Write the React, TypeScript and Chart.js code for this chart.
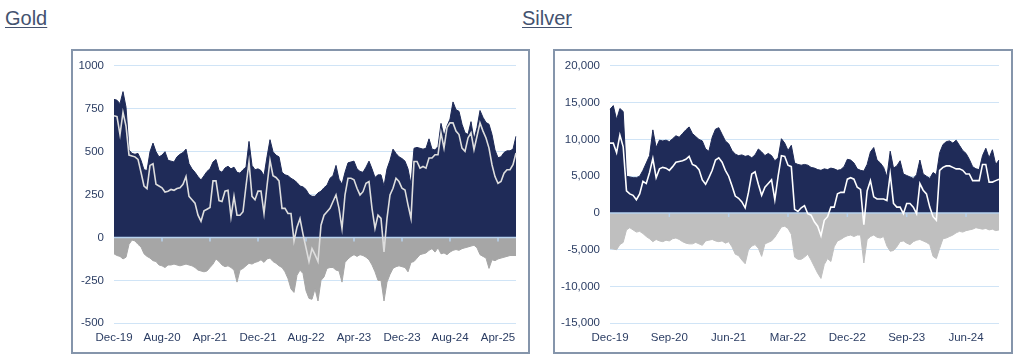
import React, { useEffect, useRef } from "react";
import { Chart, registerables } from "chart.js";

Chart.register(...registerables);

// ---------- DATA (semi-monthly readings) ----------
const goldTickLabels = ["Dec-19", "Aug-20", "Apr-21", "Dec-21", "Aug-22", "Apr-23", "Dec-23", "Aug-24", "Apr-25"];
const goldTickEvery = 16;

const goldLong = [
  805, 800, 780, 850, 760, 510, 490, 485, 490, 450,
  395, 390, 500, 550, 500, 470, 480, 500, 450, 445,
  440, 470, 485, 495, 515, 430, 400, 380, 355, 335,
  360, 385, 400, 440, 455, 390, 380, 405, 415, 400,
  410, 380, 375, 395, 410, 560, 420, 395, 400, 390,
  360, 470, 570, 500, 480, 470, 380, 365, 360, 345,
  335, 320, 300, 295, 280, 250, 240, 240, 260, 270,
  290, 305, 345, 360, 420, 340, 310, 380, 435, 440,
  445, 400, 385, 380, 410, 445, 400, 350, 365, 365,
  300, 400, 450, 515, 490, 470, 460, 445, 400, 310,
  520, 525, 520, 515, 520, 575, 515, 510, 530, 665,
  590, 650, 690, 790, 745, 735, 660, 610, 600, 675,
  570, 640, 740, 700, 670, 660, 600, 510, 465, 470,
  495, 505, 505, 515, 590,
];

const goldShort = [
  -95, -105, -110, -125, -115, -40, -15, -20, -40, -55,
  -95, -110, -120, -135, -140, -160, -165, -175, -160, -160,
  -155, -160, -165, -160, -155, -160, -165, -175, -190, -195,
  -200, -195, -175, -155, -125, -140, -160, -170, -165, -175,
  -190, -260, -190, -180, -165, -150, -155, -145, -140, -130,
  -145, -125, -120, -140, -150, -165, -175, -200, -240, -300,
  -320, -220, -190, -210, -310, -355, -360, -300, -370, -250,
  -230, -180, -175, -175, -190, -195, -260, -145, -125, -110,
  -100, -110, -100, -105, -115, -130, -160, -200, -250, -250,
  -370, -260, -215, -180, -170, -165, -170, -175, -200, -145,
  -140, -120, -100, -95, -90, -75, -65, -85, -60, -95,
  -90, -100, -85, -75, -70, -75, -65, -60, -55, -50,
  -45, -60, -100, -110, -120, -180, -130, -135, -125, -120,
  -115, -110, -105, -105, -105,
];

const goldNet = [
  710, 705, 600, 730, 650, 480, 475, 470, 455, 380,
  300, 285, 420, 430, 310, 300, 290, 265, 270, 280,
  275, 285, 290, 310, 355, 240, 220, 200, 130, 95,
  155, 165, 175, 330, 330, 215, 210, 270, 275, 120,
  240, 130, 130, 150, 300, 440, 240, 220, 270, 270,
  140, 300, 450, 360, 350, 330, 170, 170, 140, 140,
  -20, 60, 110, 20, -60, -140, -65, -100, -140, 72,
  130, 150, 170, 210, 248, 170, 53, 248, 345, 345,
  336, 287, 248, 267, 316, 326, 170, 53, 130, 111,
  -84, 111, 248, 287, 345, 326, 287, 277, 190, 111,
  443, 443, 404, 414, 404, 463, 463, 482, 482, 610,
  521, 640, 668, 668, 620, 600, 521, 502, 580, 610,
  512, 590, 668, 620, 580, 521, 424, 355, 316, 326,
  375, 395, 395, 424, 492,
];

const silverTickLabels = ["Dec-19", "Sep-20", "Jun-21", "Mar-22", "Dec-22", "Sep-23", "Jun-24"];
const silverTickEvery = 18;

const silverLong = [
  14100, 14600, 12700, 14200, 13800, 5000, 4900, 4800, 4800, 5000,
  5800, 6800, 7800, 11300, 8900, 9900, 9800, 9900, 9700, 10100,
  10500, 10300, 10800, 11300, 11700, 10800, 10400, 10000, 9800, 8700,
  8400, 10300, 11400, 11600, 10700, 9800, 9400, 8500, 8000, 7800,
  7900, 7700, 7800, 7500, 7900, 8700, 8300, 7800, 8100, 7800,
  7100, 7500, 10100, 9500, 8500, 9200, 6800, 6600, 6500, 6600,
  6500, 6200, 6100, 5900, 5800, 6000, 5900, 6100, 6000, 5800,
  5900, 6300, 7300, 7200, 6800, 6000, 5800, 5700, 6600, 8300,
  8900, 7200, 6800, 6200, 4900, 8400, 6100, 6400, 7100, 5300,
  5100, 4900, 4700, 5200, 7200, 5300, 5000, 4700, 5500, 5200,
  8200, 9300, 9700, 9800, 9500, 9900, 9200, 8500, 8100, 7300,
  6300, 6000, 5900, 7800, 8800, 7500, 8600, 6600, 7200,
];

const silverShort = [
  -4800, -4900, -5000, -4300, -4000, -2300, -2000, -2300, -2600, -2500,
  -2800, -3200, -3500, -3900, -3600, -3800, -3900, -3700, -3800, -3500,
  -3400, -3600, -3900, -4100, -4200, -4200, -4000, -4200, -4400, -3800,
  -3700, -3600, -3800, -3900, -3800, -4100, -3900, -4600, -5600, -5800,
  -6400, -6900, -5000, -4500, -4300, -4800, -5900, -4200, -4000, -3800,
  -3300, -2600, -1900, -1800, -2100, -2900, -6000, -6300, -6300, -6000,
  -5600, -6400, -7300, -8200, -8900, -7000, -6200, -6600, -4600, -3800,
  -3600, -3300, -3100, -3000, -3200, -3000, -3000, -6800, -3600, -3200,
  -3000, -3300, -3400, -3200, -4500, -5200, -5100, -4600, -3900, -3800,
  -4100, -4300, -3900, -3700, -3600, -3800, -4000, -4300, -5900, -6200,
  -4800, -3500, -3400, -3200, -3000, -2700, -2500, -2600, -2400, -2300,
  -2200, -2000, -2100, -2200, -2100, -2300, -2200, -2400, -2300,
];

const silverNet = [
  9500, 9500, 8200, 10600, 9000, 3000, 2600, 2400, 1800, 2600,
  4300, 4000, 5500, 7400, 4800, 6000, 6200, 6100, 5800, 6300,
  6900, 7000, 7100, 7300, 7700, 6600, 6400, 5900, 4500, 3900,
  4800, 5800, 7200, 7500, 6900, 5800, 5000, 3700, 2300, 2000,
  1500, 700, 2800, 5300, 5600, 3900, 2400, 3500, 4000, 4500,
  1800, 5000, 7800, 7700, 6500, 6300, 500, 200, 700, 1000,
  -100, -300, -1200, -1800, -3100, -1000, -500, 800, 800, 2600,
  2800, 2800, 4600, 4800, 4600, 3500, 3200, -1600, 3000, 4400,
  2200, 1900, 1900, 1900, 1700, 5300, 1300, 800, 800, -100,
  1300, 1300, 800, -100, 4000, 3100, 2600, 800, -500, -1000,
  5800, 6200, 6400, 6400, 6200, 6000, 6000, 5800, 5300, 5300,
  4400, 4400, 4400, 6600, 6600, 4200, 4200, 4400, 4600,
];

const makeLabels = (n: number, ticks: string[], every: number) =>
  Array.from({ length: n }, (_, i) => (i % every === 0 && ticks[i / every] ? ticks[i / every] : ""));

const goldLabels = makeLabels(goldLong.length, goldTickLabels, goldTickEvery);
const silverLabels = makeLabels(silverLong.length, silverTickLabels, silverTickEvery);

// ---------- STYLE ----------
const FONT = "'Liberation Sans', Arial, Helvetica, sans-serif";
const NAVY = "#1f2b58";
const TEXT = "#2b3d63";
const GRID = "#d0e4f6";

const zeroLinePlugin = {
  id: "zeroLine",
  afterDatasetDraw(chart: any, args: any) {
    if (args.index !== 1) return;
    const { ctx, chartArea, scales } = chart;
    const y0 = scales.y.getPixelForValue(0);
    ctx.save();
    ctx.strokeStyle = "#b7d2ee";
    ctx.lineWidth = 1.5;
    ctx.beginPath();
    ctx.moveTo(chartArea.left, y0);
    ctx.lineTo(chartArea.right, y0);
    const labels: string[] = chart.data.labels;
    labels.forEach((l, i) => {
      if (l && i > 0) {
        const px = scales.x.getPixelForValue(i);
        ctx.moveTo(px, y0);
        ctx.lineTo(px, y0 + 4);
      }
    });
    ctx.stroke();
    ctx.restore();
  },
};

type PanelProps = {
  left: number;
  top: number;
  width: number;
  height: number;
  labels: string[];
  long: number[];
  short: number[];
  net: number[];
  yMin: number;
  yMax: number;
  yStep: number;
  yAxisWidth: number;
  comma: boolean;
  shortColor: string;
  netColor: string;
};

function Panel(p: PanelProps) {
  const ref = useRef<HTMLCanvasElement | null>(null);
  useEffect(() => {
    if (!ref.current) return;
    const chart = new Chart(ref.current, {
      type: "line",
      data: {
        labels: p.labels,
        datasets: [
          {
            data: p.net,
            borderColor: p.netColor,
            borderWidth: 1.6,
            fill: false,
            order: 0,
          },
          {
            data: p.long,
            borderColor: NAVY,
            backgroundColor: NAVY,
            borderWidth: 1,
            fill: "origin",
            order: 1,
          },
          {
            data: p.short,
            borderColor: p.shortColor,
            backgroundColor: p.shortColor,
            borderWidth: 1,
            fill: "origin",
            order: 2,
          },
        ],
      },
      options: {
        responsive: false,
        maintainAspectRatio: false,
        animation: false,
        layout: { padding: { left: 0, right: 14, top: 15.5, bottom: 0 } },
        elements: { point: { radius: 0 }, line: { tension: 0 } },
        plugins: { legend: { display: false }, tooltip: { enabled: false } },
        scales: {
          x: {
            type: "category",
            offset: false,
            grid: { display: false, drawTicks: false },
            border: { display: false },
            ticks: {
              autoSkip: false,
              maxRotation: 0,
              minRotation: 0,
              padding: 8,
              color: TEXT,
              font: { family: FONT, size: 11.5 },
              callback: (_v: any, i: number) => p.labels[i],
            },
            afterFit: (s: any) => {
              s.height = 30.7;
            },
          },
          y: {
            min: p.yMin,
            max: p.yMax,
            grid: { color: GRID, lineWidth: 1, drawTicks: false },
            border: { display: false },
            ticks: {
              stepSize: p.yStep,
              padding: 10,
              color: TEXT,
              font: { family: FONT, size: 11.5 },
              callback: (v: any) => (p.comma ? Number(v).toLocaleString("en-US") : String(v)),
            },
            afterFit: (s: any) => {
              s.width = p.yAxisWidth;
            },
          },
        },
      },
      plugins: [zeroLinePlugin],
    } as any);
    return () => chart.destroy();
  }, []);
  return (
    <div style={{ position: "absolute", left: p.left, top: p.top, width: p.width, height: p.height }}>
      <canvas ref={ref} width={p.width} height={p.height} style={{ position: "absolute", left: 0, top: 0, width: p.width, height: p.height }} />
      <div
        style={{
          position: "absolute",
          left: 0,
          top: 0,
          width: p.width,
          height: p.height,
          boxSizing: "border-box",
          border: "2px solid #8595ab",
          pointerEvents: "none",
        }}
      />
    </div>
  );
}

const titleStyle = (left: number): React.CSSProperties => ({
  position: "absolute",
  left,
  top: 8,
  fontFamily: FONT,
  fontSize: 20,
  lineHeight: "20px",
  color: "#44526f",
  textDecoration: "underline",
  textDecorationThickness: "1px",
  textUnderlineOffset: "2px",
  whiteSpace: "nowrap",
});

export default function App() {
  return (
    <div style={{ position: "absolute", left: 0, top: 0, width: 1024, height: 363, background: "#fff", overflow: "hidden" }}>
      <div style={titleStyle(5)}>Gold</div>
      <div style={titleStyle(522)}>Silver</div>
      <Panel
        left={71}
        top={49}
        width={459}
        height={305}
        labels={goldLabels}
        long={goldLong}
        short={goldShort}
        net={goldNet}
        yMin={-500}
        yMax={1000}
        yStep={250}
        yAxisWidth={43}
        comma={false}
        shortColor="#a6a6a6"
        netColor="#dedede"
      />
      <Panel
        left={553}
        top={49}
        width={460}
        height={305}
        labels={silverLabels}
        long={silverLong}
        short={silverShort}
        net={silverNet}
        yMin={-15000}
        yMax={20000}
        yStep={5000}
        yAxisWidth={57}
        comma={true}
        shortColor="#bfbfbf"
        netColor="#ffffff"
      />
    </div>
  );
}
